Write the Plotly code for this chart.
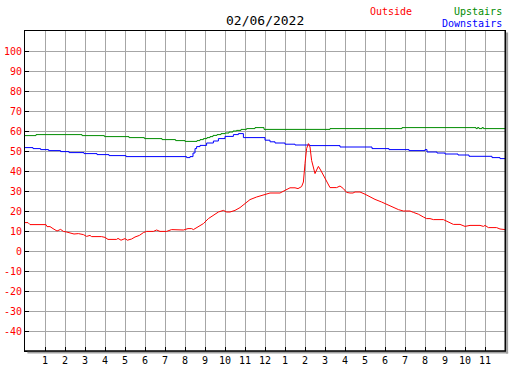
import plotly.graph_objects as go

# Hour of day (0-24) and temperatures
out_h = [0, 0.15, 0.25, 1.05, 1.1, 1.25, 1.4, 1.6, 1.78, 1.92, 2.08, 2.28, 2.45, 2.67, 2.92, 3.08,
         3.25, 3.33, 3.83, 4.0, 4.15, 4.58, 4.65, 4.8, 5.0, 5.12, 5.33, 5.5, 5.72, 5.92, 6.08, 6.42,
         6.58, 6.75, 7.08, 7.33, 7.58, 7.92, 8.15, 8.33, 8.42, 8.67, 8.92, 9.17, 9.42, 9.67, 9.92,
         10.08, 10.25, 10.5, 10.75, 11.0, 11.25, 11.58, 12.0, 12.25, 12.75, 13.0, 13.25, 13.5, 13.65,
         13.83, 13.92, 14.0, 14.08, 14.17, 14.25, 14.33, 14.42, 14.5, 14.58, 14.67, 14.78, 14.92,
         15.03, 15.17, 15.25, 15.58, 15.75, 15.92, 16.08, 16.25, 16.4, 16.5, 16.75, 17.0, 17.25,
         17.5, 17.83, 18.08, 18.33, 18.67, 18.92, 19.25, 19.42, 19.67, 19.92, 20.08, 20.25, 20.42,
         20.92, 21.17, 21.42, 21.75, 22.0, 22.25, 22.75, 22.92, 23.0, 23.17, 23.58, 23.75, 23.92, 24.0]
out_v = [14.2, 14.2, 13.2, 13.2, 12.2, 12.2, 11.2, 10.0, 10.8, 9.8, 9.5, 9.0, 8.5, 8.7, 8.2, 7.3,
         7.8, 7.2, 7.2, 6.8, 5.8, 5.8, 6.3, 5.4, 6.2, 5.4, 6.0, 7.0, 7.8, 9.2, 9.8, 9.8,
         10.5, 9.8, 9.8, 10.7, 10.5, 10.5, 11.2, 11.2, 10.7, 12.0, 13.7, 16.2, 17.8, 19.5, 20.3,
         19.5, 19.5, 20.3, 21.7, 23.7, 25.7, 27.0, 28.4, 29.0, 29.0, 30.3, 31.6, 31.6, 31.2,
         32.2, 34.5, 43.7, 51.2, 53.7, 52.0, 45.3, 41.2, 38.7, 40.5, 42.3, 40.5, 37.8,
         35.4, 32.8, 31.7, 31.7, 32.5, 31.2, 29.3, 29.0, 29.0, 29.5, 29.5, 28.4, 27.0,
         25.8, 24.5, 23.3, 22.0, 20.7, 20.0, 20.0, 19.3, 18.4, 17.0, 16.2, 16.2, 15.7,
         15.7, 14.5, 13.3, 13.3, 12.3, 12.8, 12.8, 12.3, 12.8, 11.7, 11.7, 11.0, 11.0, 10.7]

up_h = [0, 0.55, 2.85, 3.97, 5.2, 5.97, 6.85, 7.53, 8.0, 8.6, 8.75, 8.92, 9.1, 9.25, 9.4, 9.6,
        9.8, 10.0, 10.2, 10.4, 10.58, 10.8, 11.08, 11.5, 11.95, 15.25, 18.85, 22.55, 22.62, 22.7,
        22.85, 22.92, 23.05, 24.0]
up_v = [57.7, 58.2, 57.7, 57.2, 56.7, 56.2, 55.7, 55.2, 54.8, 55.2, 55.7, 56.2, 56.7, 57.2, 57.8, 58.2,
        58.7, 59.0, 59.5, 60.0, 60.3, 60.8, 61.2, 61.7, 60.8, 61.2, 61.7, 61.2, 61.7, 61.2,
        61.7, 61.2, 61.2, 61.2]

down_h = [0, 0.4, 0.78, 1.18, 1.78, 2.2, 2.95, 3.6, 4.2, 5.05, 8.08, 8.25, 8.4, 8.5, 8.58, 8.75,
          9.08, 9.42, 9.67, 10.0, 10.42, 10.67, 10.92, 12.0, 12.25, 12.5, 13.0, 13.5, 14.25, 15.75,
          17.35, 18.2, 19.2, 20.0, 20.1, 20.6, 21.0, 21.65, 22.2, 23.35, 23.75, 24.0]
down_v = [51.7, 51.2, 50.7, 50.2, 49.7, 49.2, 48.7, 48.2, 47.7, 47.2, 46.7, 47.2, 49.0, 51.2, 52.2, 52.8,
          54.0, 55.0, 56.2, 57.3, 58.2, 58.7, 56.7, 55.4, 54.6, 54.0, 53.4, 53.0, 52.7, 52.0,
          51.2, 50.7, 50.2, 50.7, 49.5, 49.0, 48.5, 48.0, 47.35, 46.7, 46.2, 46.2]

x_tickvals = list(range(0, 25))
x_ticktext = [""] + [str(i) for i in range(1, 12)] + ["12"] + [str(i) for i in range(1, 12)] + [""]
y_tickvals = list(range(-50, 111, 10))
y_ticktext = ["" if v in (-50, 110) else str(v) for v in y_tickvals]

FONT = "DejaVu Sans Mono"

fig = go.Figure()
fig.add_trace(go.Scatter(x=up_h, y=up_v, mode="lines", line=dict(color="#008c00", width=1, shape="hv"),
                         name="Upstairs", hoverinfo="skip"))
fig.add_trace(go.Scatter(x=down_h, y=down_v, mode="lines", line=dict(color="#0000ff", width=1, shape="hv"),
                         name="Downstairs", hoverinfo="skip"))
fig.add_trace(go.Scatter(x=out_h, y=out_v, mode="lines", line=dict(color="#ff0000", width=1),
                         name="Outside", hoverinfo="skip"))

fig.update_layout(
    width=527, height=370,
    margin=dict(l=25, r=22, t=31, b=19),
    paper_bgcolor="white", plot_bgcolor="white",
    showlegend=False,
    font=dict(family=FONT, size=10, color="black"),
    xaxis=dict(range=[0, 24], tickvals=x_tickvals, ticktext=x_ticktext, automargin=False,
               showgrid=True, gridcolor="#a6a6a6", gridwidth=1,
               showline=True, linecolor="black", linewidth=1, mirror=True,
               ticks="inside", ticklen=4, tickcolor="black",
               tickfont=dict(family=FONT, size=10, color="black"), zeroline=False),
    yaxis=dict(range=[-50, 110], tickvals=y_tickvals, ticktext=y_ticktext, automargin=False,
               showgrid=True, gridcolor="#a6a6a6", gridwidth=1,
               showline=True, linecolor="black", linewidth=1, mirror=True,
               ticks="inside", ticklen=4, tickcolor="black",
               tickfont=dict(family=FONT, size=10, color="red"), zeroline=False),
    shapes=[
        dict(type="line", xref="paper", yref="paper", x0=1.0, x1=1.0, y0=0, y1=1,
             line=dict(color="black", width=1)),
        dict(type="line", xref="paper", yref="paper", x0=0, x1=1, y0=0, y1=0,
             line=dict(color="black", width=1.5)),
        dict(type="rect", xref="paper", yref="paper", x0=1.002, x1=1.0065, y0=-0.008, y1=0.995,
             fillcolor="#a0a0a0", line=dict(width=0)),
        dict(type="rect", xref="paper", yref="paper", x0=0.005, x1=1.0065, y0=-0.008, y1=-0.002,
             fillcolor="#a0a0a0", line=dict(width=0)),
    ],
    annotations=[
        dict(text="02/06/2022", xref="paper", yref="paper", x=0.5, y=1.034, xanchor="center",
             yanchor="middle", showarrow=False, font=dict(family=FONT, size=13, color="black")),
        dict(text="Outside", xref="paper", yref="paper", x=0.81, y=1.062, xanchor="right",
             yanchor="middle", showarrow=False, font=dict(family=FONT, size=10, color="red")),
        dict(text="Upstairs", xref="paper", yref="paper", x=0.997, y=1.062, xanchor="right",
             yanchor="middle", showarrow=False, font=dict(family=FONT, size=10, color="#008c00")),
        dict(text="Downstairs", xref="paper", yref="paper", x=0.997, y=1.023, xanchor="right",
             yanchor="middle", showarrow=False, font=dict(family=FONT, size=10, color="#0000ff")),
    ],
)

fig.write_html("out.html", config={"displayModeBar": False},
               post_script="document.body.style.margin='0';document.body.style.overflow='hidden';")
